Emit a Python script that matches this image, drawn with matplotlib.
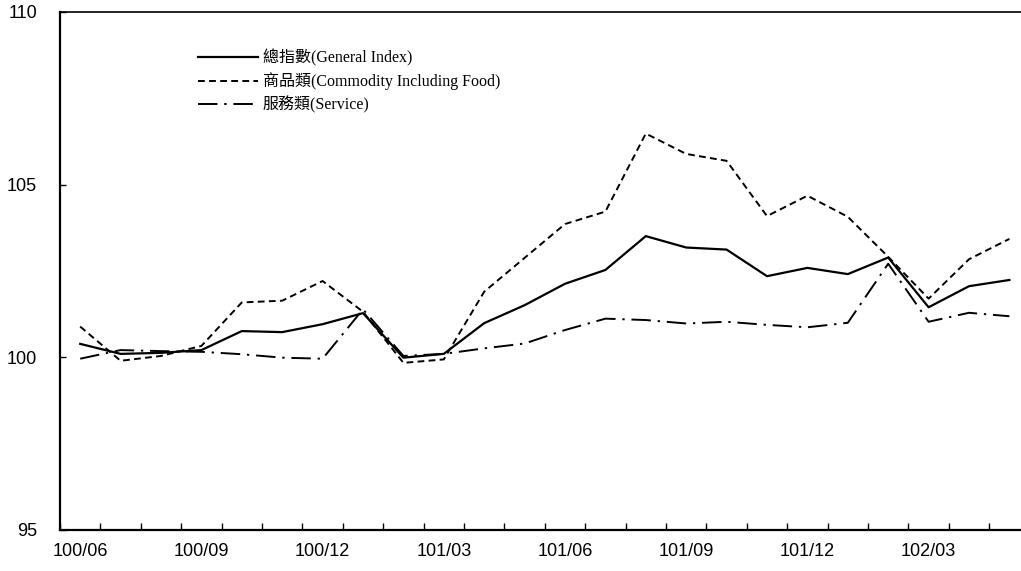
import numpy as np
import matplotlib
matplotlib.use("Agg")
import matplotlib.pyplot as plt

# months 100/06 .. 102/05
months = ["100/06", "100/07", "100/08", "100/09", "100/10", "100/11",
          "100/12", "101/01", "101/02", "101/03", "101/04", "101/05",
          "101/06", "101/07", "101/08", "101/09", "101/10", "101/11",
          "101/12", "102/01", "102/02", "102/03", "102/04", "102/05"]

general = [100.39, 100.10, 100.13, 100.21, 100.76, 100.73, 100.96, 101.28,
           99.99, 100.10, 100.99, 101.51, 102.13, 102.53, 103.51, 103.18,
           103.12, 102.35, 102.59, 102.41, 102.89, 101.45, 102.06, 102.24]

commodity = [100.89, 99.90, 100.04, 100.33, 101.59, 101.64, 102.21, 101.32,
             99.84, 99.94, 101.90, 102.88, 103.86, 104.22, 106.48, 105.89,
             105.69, 104.09, 104.68, 104.07, 102.91, 101.70, 102.84, 103.43]

service = [99.96, 100.21, 100.18, 100.16, 100.09, 99.99, 99.96, 101.39,
           100.04, 100.10, 100.26, 100.40, 100.79, 101.12, 101.08, 100.98,
           101.03, 100.94, 100.87, 101.00, 102.71, 101.03, 101.29, 101.19]

labels = ["總指數(General Index)",
          "商品類(Commodity Including Food)",
          "服務類(Service)"]

fig = plt.figure(figsize=(10.21, 5.71), dpi=100)
ax = fig.add_axes([60 / 1021, 41 / 571, 969.6 / 1021, 518 / 571])

x = np.arange(len(months))
ax.plot(x, general, color="black", lw=1.6, label=labels[0])
ax.plot(x, commodity, color="black", lw=1.4, dashes=(3.5, 2.2), label=labels[1])
ax.plot(x, service, color="black", lw=1.4, dashes=(10, 3.5, 1.2, 3.5), label=labels[2])

ax.set_xlim(-0.5, len(months) - 0.5)
ax.set_ylim(95, 110)

# category axis: ticks between months, labels every 3rd month
ax.set_xticks(np.arange(-0.5, len(months), 1.0), minor=True)
ax.set_xticks(x[::3])
ax.set_xticklabels(months[::3], fontsize=13, family="Liberation Sans")
ax.tick_params(axis="x", which="major", length=0, pad=9)
ax.tick_params(axis="x", which="minor", direction="in", length=5, width=1)

ax.set_yticks([95, 100, 105, 110])
ax.set_yticklabels(["95", "100", "105", "110"], fontsize=13, family="Liberation Sans")
ax.tick_params(axis="y", direction="in", length=4, width=1, pad=16.5)

ax.spines["right"].set_visible(False)
ax.spines["left"].set_linewidth(1.6)
ax.spines["bottom"].set_linewidth(1.6)
ax.spines["top"].set_linewidth(1.2)

leg = ax.legend(loc="upper left", bbox_to_anchor=(0.136, 0.94), frameon=False,
                handlelength=3.75, handletextpad=0.3, labelspacing=0.36,
                borderaxespad=0.0,
                prop={"family": ["Liberation Serif", "Noto Sans CJK TC"], "size": 11.5})

fig.savefig("out.png", dpi=100)
